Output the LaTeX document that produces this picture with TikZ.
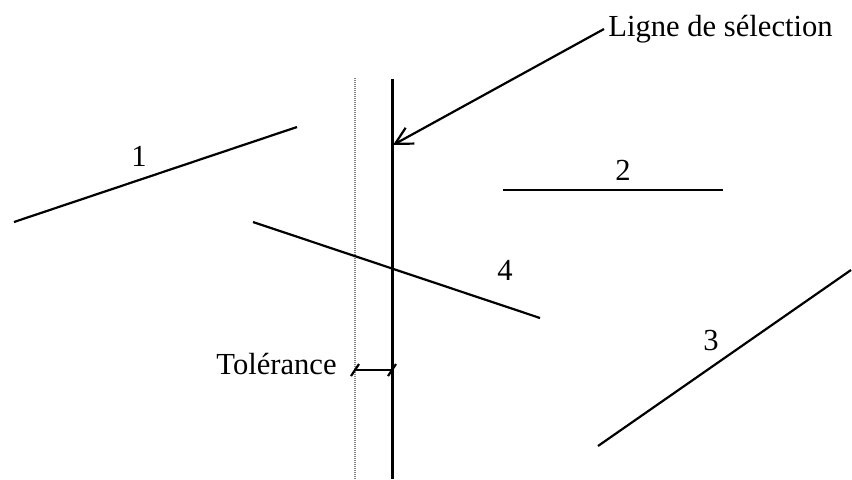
\documentclass[tikz,border=0pt]{standalone}
\usepackage{fontspec}
\setmainfont{Liberation Serif}
\usetikzlibrary{arrows.meta,positioning}

\begin{document}
\begin{tikzpicture}[
  x=0.5pt, y=-0.5pt,
  every node/.style={font=\fontsize{15.3}{18}\selectfont, inner sep=0pt},
  seg/.style={line width=1.1pt},
  selline/.style={line width=1.5pt},
  tolline/.style={line width=0.6pt, gray, dash pattern=on 0.6pt off 0.4pt},
  arr/.style={-{Straight Barb[length=8.5pt,width=9pt]}, line width=1.1pt}
]
\useasboundingbox (0,0) rectangle (852,479);

% selection line and tolerance line
\coordinate (selT) at (392,79);
\coordinate (selB) at (392,479);
\coordinate (tolT) at (355,78);
\coordinate (tolB) at (355,479);
\draw[selline] (selT) -- (selB);
\draw[tolline] (tolT) -- (tolB);

% label and arrow
\node (sel) [anchor=west] at (608,29) {Ligne de sélection};
\coordinate (hit) at (393,145);
\draw[arr] ([xshift=-2]sel.west) -- (hit);

% tolerance marker
\coordinate (tl) at (355,370);
\coordinate (tr) at (392,370);
\draw[seg] (tl) -- (tr);
\draw[seg] ([shift={(-4,6)}]tl) -- ([shift={(4,-6)}]tl);
\draw[seg] ([shift={(-4,6)}]tr) -- ([shift={(4,-6)}]tr);
\node (tol) [anchor=east] at (337,364) {Tolérance};

% segments
\coordinate (a1) at (14,222);  \coordinate (b1) at (297,127);
\coordinate (a2) at (503,190); \coordinate (b2) at (723,190);
\coordinate (a3) at (598,446); \coordinate (b3) at (851,270);
\coordinate (a4) at (253,222); \coordinate (b4) at (540,318);
\draw[seg] (a1) -- (b1);
\draw[seg] (a2) -- (b2);
\draw[seg] (a3) -- (b3);
\draw[seg] (a4) -- (b4);

\node (n1) at (139,156) {1};
\node (n2) at (623,170) {2};
\node (n3) at (711,341) {3};
\node (n4) at (505,270) {4};
\end{tikzpicture}
\end{document}
